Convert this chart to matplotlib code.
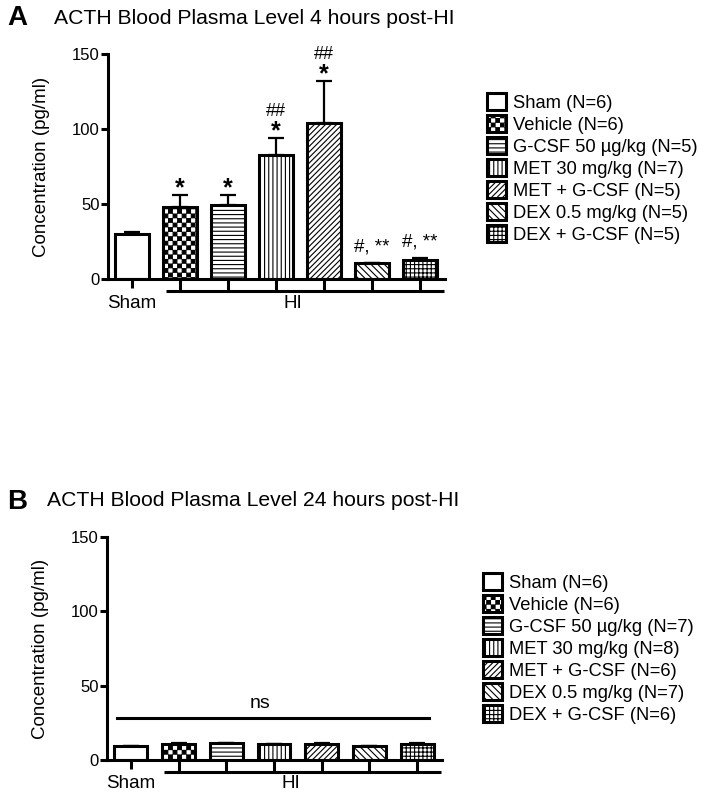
import warnings
import numpy as np
import matplotlib
matplotlib.use('Agg')
import matplotlib.pyplot as plt
from matplotlib.hatch import HatchPatternBase, _hatch_types
from matplotlib.path import Path

warnings.filterwarnings('ignore')

# data
groups = ['Sham', 'Vehicle', 'G-CSF 50 µg/kg', 'MET 30 mg/kg', 'MET + G-CSF',
          'DEX 0.5 mg/kg', 'DEX + G-CSF']
hatches = ['', 'c', '----', '||||', '//////', '\\\\\\\\\\', '++++']

n_4h = [6, 6, 5, 7, 5, 5, 5]
mean_4h = [30, 47.8, 49, 82.4, 104, 10.4, 12.7]
sem_4h = [1.5, 8.4, 7.0, 11.6, 28.0, 0.3, 1.0]
star_4h = ['', '*', '*', '*', '*', '', '']
hash_4h = ['', '', '', '##', '##', '#, **', '#, **']

n_24h = [6, 6, 7, 8, 6, 7, 6]
mean_24h = [9.4, 10.5, 11.2, 10.5, 11.0, 9.2, 10.5]
sem_24h = [0.3, 0.6, 0.5, 0.4, 0.5, 0.4, 0.6]
ns_level = 28

yticks = [0, 50, 100, 150]


class CheckerHatch(HatchPatternBase):
    """Filled checkerboard hatch, used with the code 'c'."""
    def __init__(self, hatch, density):
        self.n = 22 if 'c' in hatch else 0
        self.num_vertices = (self.n * self.n // 2) * 5

    def set_vertices_and_codes(self, vertices, codes):
        step = 1.0 / self.n
        inset = 0.004
        k = 0
        for i in range(self.n):
            for j in range(self.n):
                if (i + j) % 2:
                    continue
                x0, y0 = i * step + inset, j * step + inset
                x1, y1 = (i + 1) * step - inset, (j + 1) * step - inset
                vertices[k:k + 5] = [(x0, y0), (x1, y0), (x1, y1), (x0, y1), (x0, y0)]
                codes[k:k + 5] = [Path.MOVETO, Path.LINETO, Path.LINETO,
                                  Path.LINETO, Path.CLOSEPOLY]
                k += 5


_hatch_types.append(CheckerHatch)

plt.rcParams['font.family'] = ['Liberation Sans', 'DejaVu Sans']
plt.rcParams['hatch.linewidth'] = 0.8
plt.rcParams['hatch.color'] = 'black'

LW = 2.2
fig = plt.figure(figsize=(7.04, 7.99), dpi=100)


def draw_panel(rect, means, sems, ns):
    ax = fig.add_axes(rect)
    x = np.arange(len(means))
    handles = []
    for i in x:
        b = ax.bar(x[i], means[i], width=0.69, color='white', edgecolor='black',
                   linewidth=LW, hatch=hatches[i], zorder=2)
        handles.append(b[0])
    ax.errorbar(x, means, yerr=[np.zeros(len(sems)), sems], fmt='none',
                ecolor='black', elinewidth=1.6, capsize=6, capthick=1.6, zorder=1)

    ax.set_xlim(-0.5, 6.52)
    ax.set_ylim(0, 150)
    ax.set_yticks(yticks)
    ax.set_xticks([])
    for s in ['top', 'right']:
        ax.spines[s].set_visible(False)
    for s in ['left', 'bottom']:
        ax.spines[s].set_linewidth(LW)
    ax.tick_params(axis='y', direction='out', length=5, width=LW, labelsize=12, pad=1)
    ax.set_ylabel('Concentration (pg/ml)', fontsize=13.5, labelpad=16)

    # group bracket under the axis
    kw = dict(color='black', lw=LW, clip_on=False, solid_capstyle='butt')
    ax.plot([0, 0], [0, -6], **kw)
    for i in x[1:]:
        ax.plot([i, i], [0, -8], **kw)
    ax.plot([0.7, 6.5], [-8, -8], **kw)
    ax.text(0, -16, 'Sham', ha='center', va='center', fontsize=13.5)
    ax.text(3.35, -16, 'HI', ha='center', va='center', fontsize=13.5)

    labels = ['%s (N=%d)' % (g, n) for g, n in zip(groups, ns)]
    return ax, handles, labels


legend_kw = dict(loc='upper left', frameon=False, fontsize=13.2,
                 handlelength=1.05, handleheight=1.05, handletextpad=0.35,
                 labelspacing=0.18, borderpad=0, borderaxespad=0)

# panel A
axA, hA, lA = draw_panel([108 / 704, 1 - 279 / 799, 337 / 704, 225 / 799],
                         mean_4h, sem_4h, n_4h)
for i, (m, s) in enumerate(zip(mean_4h, sem_4h)):
    top = m + s
    if star_4h[i]:
        axA.annotate(star_4h[i], (i, top), xytext=(0, -0.5), textcoords='offset points',
                     ha='center', va='baseline', fontsize=18, fontweight='bold')
    if hash_4h[i] == '##':
        axA.annotate(hash_4h[i], (i, top), xytext=(0, 15.8), textcoords='offset points',
                     ha='center', va='baseline', fontsize=13)
    elif hash_4h[i]:
        axA.annotate(hash_4h[i], (i, top), xytext=(0, 8.5), textcoords='offset points',
                     ha='center', va='baseline', fontsize=13.5)

fig.text(7 / 704, 1 - 18 / 799, 'A', fontsize=20, fontweight='bold', va='center')
fig.text(54 / 704, 1 - 18 / 799, 'ACTH Blood Plasma Level 4 hours post-HI',
         fontsize=15.2, va='center')
fig.legend(hA, lA, bbox_to_anchor=(487 / 704, 1 - 93 / 799), **legend_kw)

# panel B
axB, hB, lB = draw_panel([107 / 704, 1 - 760 / 799, 335 / 704, 223 / 799],
                         mean_24h, sem_24h, n_24h)
axB.plot([-0.3, 6.25], [ns_level, ns_level], color='black', lw=LW)
axB.text(2.7, ns_level + 7, 'ns', ha='center', va='baseline', fontsize=14)

fig.text(7 / 704, 1 - 502 / 799, 'B', fontsize=20, fontweight='bold', va='center')
fig.text(47 / 704, 1 - 500 / 799, 'ACTH Blood Plasma Level 24 hours post-HI',
         fontsize=15.2, va='center')
fig.legend(hB, lB, bbox_to_anchor=(483 / 704, 1 - 573 / 799), **legend_kw)

fig.savefig('out.png', dpi=100)
